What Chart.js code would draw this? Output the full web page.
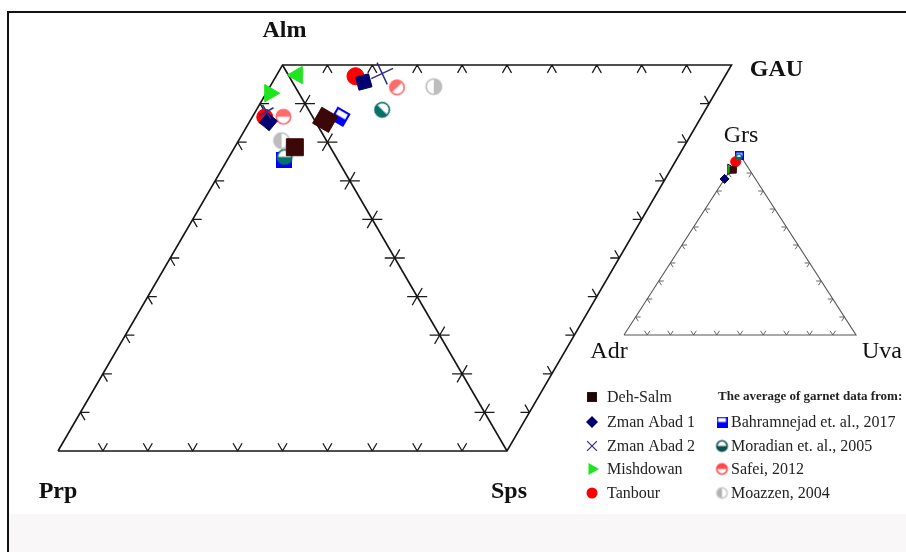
<!DOCTYPE html>
<html>
<head>
<meta charset="utf-8">
<script src="https://cdn.jsdelivr.net/npm/chart.js@4.4.1/dist/chart.umd.min.js"></script>
<style>
  html, body { margin: 0; padding: 0; background: #fff; }
  canvas { display: block; }
</style>
</head>
<body>
<canvas id="garnet" width="906" height="552" style="width:906px;height:552px"></canvas>
<script>
// Garnet end-member compositions (mol %), one entry per locality / reference.
const seriesNames = ['Deh-Salm', 'Zman Abad 1', 'Zman Abad 2', 'Mishdowan', 'Tanbour',
  'Bahramnejad et. al., 2017', 'Moradian et. al., 2005', 'Safei, 2012', 'Moazzen, 2004'];

// Alm – Prp – Sps triangle
const almAPS = [78.7, 85.3, 87.9, 92.7, 86.5, 75.4, 76.2, 86.6, 80.4];
const prpAPS = [ 7.9, 10.5,  9.6,  6.5, 10.7, 12.0, 11.4,  6.5, 10.0];
const spsAPS = [13.4,  4.2,  2.5,  0.8,  2.8, 12.6, 12.4,  6.9,  9.6];

// Alm – GAU – Sps triangle
const almAGS = [83.4, 79.7, 76.7, 95.4, 82.3, 80.4, 72.0, 71.6, 63.5];
const gauAGS = [ 2.4, 15.9, 21.1,  2.0, 14.8,  6.2, 16.4, 22.6, 30.9];
const spsAGS = [14.2,  4.4,  2.2,  2.6,  2.9, 13.4, 11.6,  5.8,  5.6];

// Grs – Adr – Uva triangle (null: not plotted)
const grsGAU = [91.7, 86.7, null, 92.1, 96.3, 99.5, 99.0, null, null];
const adrGAU = [ 7.1, 13.3, null,  7.9,  3.7,  0.5,  1.0, null, null];
const uvaGAU = [ 1.2,  0.0, null,  0.0,  0.0,  0.0,  0.0, null, null];

const cornerNames = ['Alm', 'Prp', 'Sps', 'GAU', 'Grs', 'Adr', 'Uva'];
const legendHeader = 'The average of garnet data from:';

// ---- diagram geometry (data units; the Prp–Sps base is 100 long) ----
const H = 86.6;
const V = {
  prp: { x: 0, y: 0 }, sps: { x: 100, y: 0 }, alm: { x: 50, y: H }, gau: { x: 150, y: H },
  adr: { x: 126.06, y: 26.03 }, uva: { x: 177.73, y: 26.03 }, grs: { x: 151.89, y: 66.41 }
};

function mix(w, verts) {
  let s = 0, x = 0, y = 0;
  w.forEach((wi, i) => { s += wi; x += wi * verts[i].x; y += wi * verts[i].y; });
  return { x: x / s, y: y / s };
}

// ---- marker images for the half-filled symbols ----
function disc(r, color, start, ring) {
  const s = Math.ceil(2 * r + 3), m = s / 2;
  const c = document.createElement('canvas'); c.width = c.height = s;
  const g = c.getContext('2d');
  const rr = r - 0.8;
  g.beginPath(); g.arc(m, m, rr, 0, 2 * Math.PI); g.fillStyle = '#fff'; g.fill();
  g.beginPath(); g.moveTo(m, m); g.arc(m, m, rr, start, start + Math.PI); g.closePath();
  g.fillStyle = color; g.fill();
  g.beginPath(); g.arc(m, m, rr, 0, 2 * Math.PI); g.lineWidth = 1.6; g.strokeStyle = ring || color; g.stroke();
  return c;
}
function boxHalf(side, color) {
  const s = Math.ceil(side), c = document.createElement('canvas'); c.width = c.height = s;
  const g = c.getContext('2d');
  g.fillStyle = color; g.fillRect(0, 0, s, s);
  const k = Math.max(1.5, s * 0.14);
  g.fillStyle = '#fff'; g.fillRect(k, k, s - 2 * k, s * 0.5 - k);
  return c;
}

const C = {
  deh: '#3b0707', zm1: '#000070', zm2: '#2e2e90', mis: '#1ee61e', tan: '#ff0000',
  bah: '#0000ff', mor: '#08706c', saf: '#ff6a6a', moa: '#bdbdbd'
};

// per series: marker for [Alm-Prp-Sps point, Alm-GAU-Sps point, Grs-Adr-Uva point]
const markerStyles = [
  { style: ['rect', 'rect', 'rect'], r: [12, 13, 4.5], rot: [0, 30, 0], bg: C.deh, bd: C.deh, bw: 1 },
  { style: ['rect', 'rect', 'rectRot'], r: [9, 9.5, 4.5], rot: [40, -15, 0], bg: C.zm1, bd: C.zm1, bw: 1 },
  { style: ['crossRot', 'crossRot', 'crossRot'], r: [8, 12, 4], rot: [15, 20, 0], bg: C.zm2, bd: C.zm2, bw: 1.5 },
  { style: ['triangle', 'triangle', 'triangle'], r: [10, 10, 6], rot: [90, -90, 90], bg: C.mis, bd: [C.mis, C.mis, '#111'], bw: 1 },
  { style: ['circle', 'circle', 'circle'], r: [8, 8.5, 5], rot: [0, 0, 0], bg: C.tan, bd: C.tan, bw: 1 },
  { style: [boxHalf(16, C.bah), boxHalf(15, C.bah), boxHalf(9, C.bah)], r: [8, 8, 4.5], rot: [0, 30, 0], bg: C.bah, bd: C.bah, bw: 1 },
  { style: [disc(8, C.mor, 0), disc(8, C.mor, 0), disc(3.5, C.mor, 0)], r: [8, 8, 4], rot: [0, 45, 0], bg: C.mor, bd: C.mor, bw: 1 },
  { style: [disc(8, C.saf, Math.PI), disc(8, C.saf, Math.PI), disc(3.5, C.saf, Math.PI)], r: [8, 8, 4], rot: [0, -45, 0], bg: C.saf, bd: C.saf, bw: 1 },
  { style: [disc(8.5, C.moa, Math.PI / 2), disc(8.5, C.moa, Math.PI / 2), disc(4, C.moa, Math.PI / 2)], r: [8, 8, 4], rot: [0, 180, 0], bg: C.moa, bd: C.moa, bw: 1 }
];

// drawing order: Zman Abad 2 on top ... Bahramnejad at the bottom
const stackOrder = [2, 1, 0, 6, 4, 3, 7, 8, 5];

const pointDatasets = seriesNames.map((name, i) => {
  const pts = [], ps = [], pr = [], prot = [], pbd = [];
  const ms = markerStyles[i];
  const add = (p, k) => {
    pts.push(p); ps.push(ms.style[k]); pr.push(ms.r[k]); prot.push(ms.rot[k]);
    pbd.push(Array.isArray(ms.bd) ? ms.bd[k] : ms.bd);
  };
  add(mix([almAPS[i], prpAPS[i], spsAPS[i]], [V.alm, V.prp, V.sps]), 0);
  add(mix([almAGS[i], gauAGS[i], spsAGS[i]], [V.alm, V.gau, V.sps]), 1);
  if (grsGAU[i] !== null) add(mix([grsGAU[i], adrGAU[i], uvaGAU[i]], [V.grs, V.adr, V.uva]), 2);
  return {
    label: name, data: pts, showLine: false, order: stackOrder.indexOf(i),
    pointStyle: ps, pointRadius: pr, rotation: prot,
    backgroundColor: ms.bg, borderColor: pbd, pointBorderWidth: ms.bw, borderWidth: ms.bw
  };
});

const frameDatasets = [
  { label: 'outline', data: [V.prp, V.alm, V.gau, V.sps, V.prp], borderColor: '#151515', borderWidth: 1.6 },
  { label: 'join', data: [V.alm, V.sps], borderColor: '#151515', borderWidth: 1.6 },
  { label: 'ugrandite', data: [V.adr, V.grs, V.uva, V.adr], borderColor: '#555', borderWidth: 1.1 }
].map(d => Object.assign(d, { showLine: true, pointRadius: 0, fill: false, tension: 0, order: 90 }));

// ---- ternary tick marks ----
function P(chart, v) {
  return { x: chart.scales.x.getPixelForValue(v.x), y: chart.scales.y.getPixelForValue(v.y) };
}
function unit(a, b) { const dx = b.x - a.x, dy = b.y - a.y, l = Math.hypot(dx, dy); return { x: dx / l, y: dy / l }; }
function edgeTicks(ctx, A, B, Cv, len) {
  const d1 = unit(A, Cv), d2 = unit(B, Cv);
  ctx.beginPath();
  for (let i = 1; i < 10; i++) {
    const t = i / 10, q = { x: A.x + t * (B.x - A.x), y: A.y + t * (B.y - A.y) };
    ctx.moveTo(q.x, q.y); ctx.lineTo(q.x + len * d1.x, q.y + len * d1.y);
    ctx.moveTo(q.x, q.y); ctx.lineTo(q.x + len * d2.x, q.y + len * d2.y);
  }
  ctx.stroke();
}

const ternaryPlugin = {
  id: 'ternary',
  beforeDraw(chart) {
    const ctx = chart.ctx;
    ctx.save();
    ctx.fillStyle = '#f9f7f7';
    ctx.fillRect(9, 514, 897, 38);
    ctx.strokeStyle = '#111'; ctx.lineWidth = 2;
    ctx.beginPath(); ctx.moveTo(8, 552); ctx.lineTo(8, 12); ctx.lineTo(906, 12); ctx.stroke();
    ctx.restore();
  },
  beforeDatasetsDraw(chart) {
    const ctx = chart.ctx;
    const p = {}; Object.keys(V).forEach(k => { p[k] = P(chart, V[k]); });
    ctx.save();
    ctx.lineCap = 'butt';
    ctx.strokeStyle = '#1a1a1a'; ctx.lineWidth = 1.3;
    edgeTicks(ctx, p.prp, p.sps, p.alm, 9);
    edgeTicks(ctx, p.prp, p.alm, p.sps, 9);
    edgeTicks(ctx, p.alm, p.gau, p.sps, 9);
    edgeTicks(ctx, p.gau, p.sps, p.alm, 9);
    edgeTicks(ctx, p.alm, p.sps, p.prp, 10);
    edgeTicks(ctx, p.alm, p.sps, p.gau, 10);
    ctx.strokeStyle = '#555'; ctx.lineWidth = 0.9;
    edgeTicks(ctx, p.adr, p.uva, p.grs, 5);
    edgeTicks(ctx, p.adr, p.grs, p.uva, 5);
    edgeTicks(ctx, p.grs, p.uva, p.adr, 5);
    ctx.restore();
  },
  afterDraw(chart) {
    const ctx = chart.ctx;
    const p = {}; Object.keys(V).forEach(k => { p[k] = P(chart, V[k]); });
    ctx.save();
    ctx.textAlign = 'center'; ctx.textBaseline = 'middle'; ctx.fillStyle = '#111';
    ctx.font = 'bold 24px "Liberation Serif"';
    ctx.fillText(cornerNames[0], p.alm.x + 2, p.alm.y - 34);
    ctx.fillText(cornerNames[1], p.prp.x, p.prp.y + 41);
    ctx.fillText(cornerNames[2], p.sps.x + 2, p.sps.y + 41);
    ctx.fillText(cornerNames[3], p.gau.x + 45, p.gau.y + 5);
    ctx.font = '24px "Liberation Serif"';
    ctx.fillText(cornerNames[4], p.grs.x + 1, p.grs.y - 19);
    ctx.fillText(cornerNames[5], p.adr.x - 15, p.adr.y + 17);
    ctx.fillText(cornerNames[6], p.uva.x + 26, p.uva.y + 17);

    // legend
    const rows = [397, 422, 446, 469, 493];
    const left = [
      { pointStyle: 'rect', radius: 7, rotation: 0, fill: '#1c0606', bw: 0 },
      { pointStyle: 'rectRot', radius: 6, rotation: 0, fill: C.zm1, bw: 0 },
      { pointStyle: 'crossRot', radius: 7, rotation: 0, fill: C.zm2, bw: 1.2 },
      { pointStyle: 'triangle', radius: 7, rotation: 90, fill: C.mis, bw: 0 },
      { pointStyle: 'circle', radius: 5.5, rotation: 0, fill: C.tan, bw: 0 }
    ];
    left.forEach((m, i) => {
      ctx.fillStyle = m.fill; ctx.strokeStyle = m.fill; ctx.lineWidth = m.bw || 1;
      Chart.helpers.drawPoint(ctx, { pointStyle: m.pointStyle, radius: m.radius, rotation: m.rotation, borderWidth: m.bw }, 592, rows[i]);
    });
    const right = [boxHalf(11, C.bah), disc(6, '#0b524e', 0), disc(6, '#ff4a4a', Math.PI), disc(6, '#b0b0b0', Math.PI / 2, '#c8c8c8')];
    right.forEach((img, i) => ctx.drawImage(img, 722 - img.width / 2, rows[i + 1] - img.height / 2));

    ctx.textAlign = 'left'; ctx.fillStyle = '#222';
    ctx.font = '16px "Liberation Serif"';
    for (let i = 0; i < 5; i++) ctx.fillText(seriesNames[i], 607, rows[i] + 1);
    for (let i = 5; i < 9; i++) ctx.fillText(seriesNames[i], 731, rows[i - 4] + 1);
    ctx.font = 'bold 13px "Liberation Serif"';
    ctx.fillText(legendHeader, 718, rows[0]);
    ctx.restore();
  }
};

// pixel layout: Prp at (58, 451), Sps at (507, 451), Alm at (282.5, 65)
const xPerUnit = 4.49, yPerUnit = 4.457;
new Chart(document.getElementById('garnet'), {
  type: 'scatter',
  data: { datasets: [...pointDatasets, ...frameDatasets] },
  options: {
    responsive: false, animation: false, events: [],
    layout: { padding: 0, autoPadding: false },
    plugins: { legend: { display: false }, tooltip: { enabled: false } },
    scales: {
      x: { type: 'linear', display: false, min: -58 / xPerUnit, max: (906 - 58) / xPerUnit },
      y: { type: 'linear', display: false, min: -(552 - 451) / yPerUnit, max: 451 / yPerUnit }
    }
  },
  plugins: [ternaryPlugin]
});
</script>
</body>
</html>
